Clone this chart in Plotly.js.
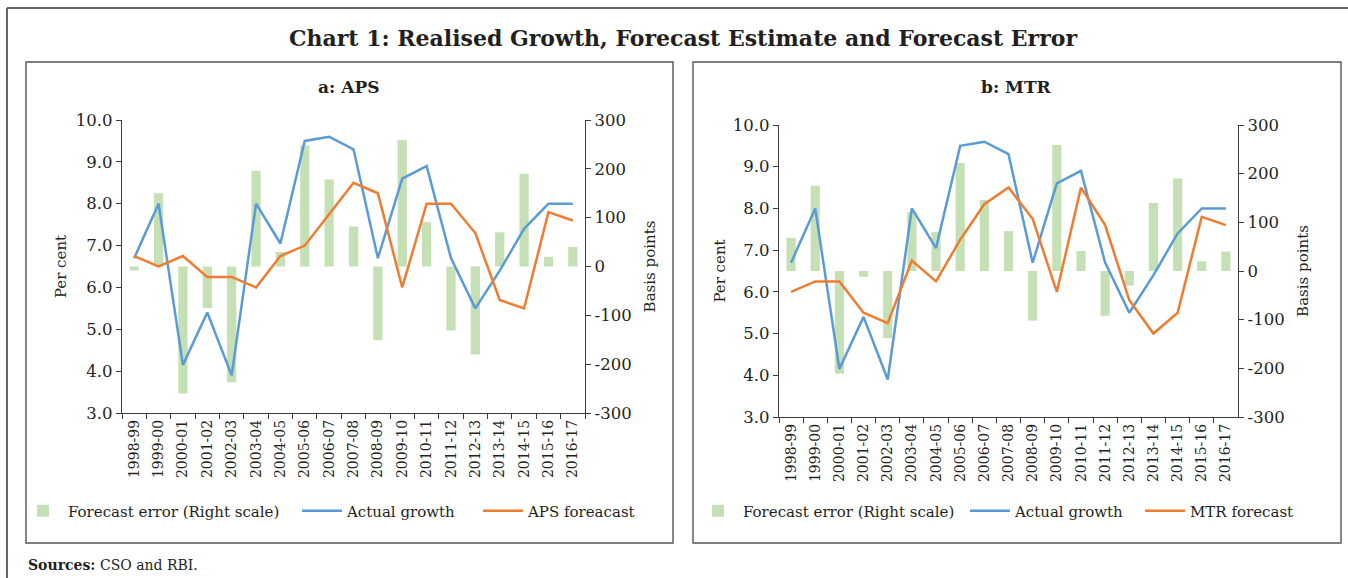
<!DOCTYPE html>
<html>
<head>
<meta charset="utf-8">
<script src="https://cdn.plot.ly/plotly-3.0.1.min.js"></script>
<style>html,body{margin:0;padding:0;background:#fff;}#chart{width:1348px;height:578px;}</style>
</head>
<body>
<div id="chart"></div>
<script>
// ---- data ----
var years = ["1998-99","1999-00","2000-01","2001-02","2002-03","2003-04","2004-05","2005-06","2006-07","2007-08","2008-09","2009-10","2010-11","2011-12","2012-13","2013-14","2014-15","2015-16","2016-17"];
var actualGrowth = [6.7, 8.0, 4.15, 5.4, 3.9, 8.0, 7.05, 9.5, 9.6, 9.3, 6.7, 8.6, 8.9, 6.7, 5.5, 6.4, 7.4, 8.0, 8.0];
var apsForecast = [6.75, 6.5, 6.75, 6.25, 6.25, 6.0, 6.75, 7.0, 7.75, 8.5, 8.25, 6.0, 8.0, 8.0, 7.3, 5.7, 5.5, 7.8, 7.6];
var apsError = [-8, 150, -260, -85, -237, 196, 30, 248, 178, 82, -151, 259, 91, -131, -180, 70, 190, 20, 40];
var mtrForecast = [6.0, 6.25, 6.25, 5.5, 5.25, 6.75, 6.25, 7.25, 8.1, 8.5, 7.75, 6.0, 8.5, 7.6, 5.8, 5.0, 5.5, 7.8, 7.6];
var mtrError = [68, 175, -211, -12, -138, 121, 80, 222, 146, 82, -102, 259, 41, -92, -30, 140, 190, 20, 40];

var leftTicks = [3, 4, 5, 6, 7, 8, 9, 10];
var rightTicks = [-300, -200, -100, 0, 100, 200, 300];

// ---- style ----
var W = 1348, H = 578;
function px(x){ return x / W; }
function py(y){ return 1 - y / H; }
var FONT = "DejaVu Serif";
var TXT = "#231f20";
var AX = "#3c3c3c";
var GREEN = "#c5e0b4", BLUE = "#5b9bd5", ORANGE = "#ed7d31";

var traces = [
  {type:"bar", x:years, y:apsError, xaxis:"x", yaxis:"y", name:"Forecast error (Right scale)",
   marker:{color:GREEN}, width:0.38, legend:"legend", legendwidth:224},
  {type:"scatter", mode:"lines", x:years, y:actualGrowth, xaxis:"x", yaxis:"y2", name:"Actual growth",
   line:{color:BLUE, width:2.5}, legend:"legend", legendwidth:126},
  {type:"scatter", mode:"lines", x:years, y:apsForecast, xaxis:"x", yaxis:"y2", name:"APS foreacast",
   line:{color:ORANGE, width:2.5}, legend:"legend", legendwidth:110},

  {type:"bar", x:years, y:mtrError, xaxis:"x2", yaxis:"y3", name:"Forecast error (Right scale)",
   marker:{color:GREEN}, width:0.38, legend:"legend2", legendwidth:217},
  {type:"scatter", mode:"lines", x:years, y:actualGrowth, xaxis:"x2", yaxis:"y4", name:"Actual growth",
   line:{color:BLUE, width:2.5}, legend:"legend2", legendwidth:120},
  {type:"scatter", mode:"lines", x:years, y:mtrForecast, xaxis:"x2", yaxis:"y4", name:"MTR forecast",
   line:{color:ORANGE, width:2.5}, legend:"legend2", legendwidth:110}
];

function xAxis(d0, d1, anchor){
  return {domain:[px(d0), px(d1)], anchor:anchor, type:"category", tickson:"boundaries",
    ticks:"outside", ticklen:5, tickcolor:AX, showline:true, linecolor:AX, linewidth:1.3,
    showgrid:false, zeroline:false, tickangle:-90, fixedrange:true,
    tickfont:{family:FONT, size:14, color:TXT}};
}
function bpAxis(top, bottom, anchor, standoff){
  return {domain:[py(bottom), py(top)], anchor:anchor, side:"right", range:[-300,300],
    tickvals:rightTicks, ticktext:rightTicks.map(String), ticks:"outside", ticklen:5, tickcolor:AX,
    showline:true, linecolor:AX, linewidth:1.3, showgrid:false, zeroline:false, fixedrange:true,
    tickfont:{family:FONT, size:16.5, color:TXT},
    title:{text:"Basis points", standoff:standoff, font:{family:FONT, size:15, color:TXT}}};
}
function pcAxis(over, anchor, standoff){
  return {overlaying:over, anchor:anchor, side:"left", range:[3,10],
    tickvals:leftTicks, ticktext:leftTicks.map(function(v){return v.toFixed(1);}),
    ticks:"outside", ticklen:5, tickcolor:AX, showline:true, linecolor:AX, linewidth:1.3,
    showgrid:false, zeroline:false, fixedrange:true,
    tickfont:{family:FONT, size:16.5, color:TXT},
    title:{text:"Per cent", standoff:standoff, font:{family:FONT, size:15, color:TXT}}};
}

function legendAt(x){
  return {orientation:"h", x:px(x), xanchor:"left", y:py(511), yanchor:"middle",
    itemwidth:40, bgcolor:"rgba(0,0,0,0)", traceorder:"normal",
    font:{family:FONT, size:15, color:TXT}};
}

var lineStyle = {color:"#555", width:1.4};
var layout = {
  width:W, height:H, margin:{l:0, r:0, t:0, b:0},
  paper_bgcolor:"#fff", plot_bgcolor:"rgba(0,0,0,0)",
  showlegend:true, bargap:0.6,
  title:{text:"Chart 1: Realised Growth, Forecast Estimate and Forecast Error",
    x:px(683), y:py(38), xanchor:"center", yanchor:"middle", xref:"paper", yref:"paper",
    font:{family:FONT, size:22, weight:700, color:TXT}},
  xaxis:xAxis(122, 585, "y"),
  yaxis:bpAxis(120, 413, "x", 13),
  yaxis2:pcAxis("y", "x", 5),
  xaxis2:xAxis(779, 1238, "y3"),
  yaxis3:bpAxis(125, 417, "x2", 13),
  yaxis4:pcAxis("y3", "x2", 3),
  legend:legendAt(18),
  legend2:legendAt(693),
  annotations:[
    {text:"<b>a: APS</b>", x:px(349), y:py(87), xref:"paper", yref:"paper", showarrow:false,
     xanchor:"center", yanchor:"middle", font:{family:FONT, size:17, color:TXT}},
    {text:"<b>b: MTR</b>", x:px(1016), y:py(87), xref:"paper", yref:"paper", showarrow:false,
     xanchor:"center", yanchor:"middle", font:{family:FONT, size:17, color:TXT}},
    {text:"<b>Sources:</b> CSO and RBI.", x:px(26), y:py(565), xref:"paper", yref:"paper", showarrow:false,
     xanchor:"left", yanchor:"middle", font:{family:FONT, size:14, color:TXT}}
  ],
  shapes:[
    {type:"line", xref:"paper", yref:"paper", x0:px(7), x1:1, y0:py(8), y1:py(8), line:{color:"#666", width:2}},
    {type:"line", xref:"paper", yref:"paper", x0:px(7), x1:px(7), y0:py(8), y1:0, line:{color:"#666", width:2}},
    {type:"rect", xref:"paper", yref:"paper", x0:px(26), x1:px(673), y0:py(543), y1:py(62), line:lineStyle},
    {type:"rect", xref:"paper", yref:"paper", x0:px(693), x1:px(1341), y0:py(543), y1:py(62), line:lineStyle}
  ]
};

Plotly.newPlot("chart", traces, layout, {staticPlot:true, displayModeBar:false});
</script>
</body>
</html>
